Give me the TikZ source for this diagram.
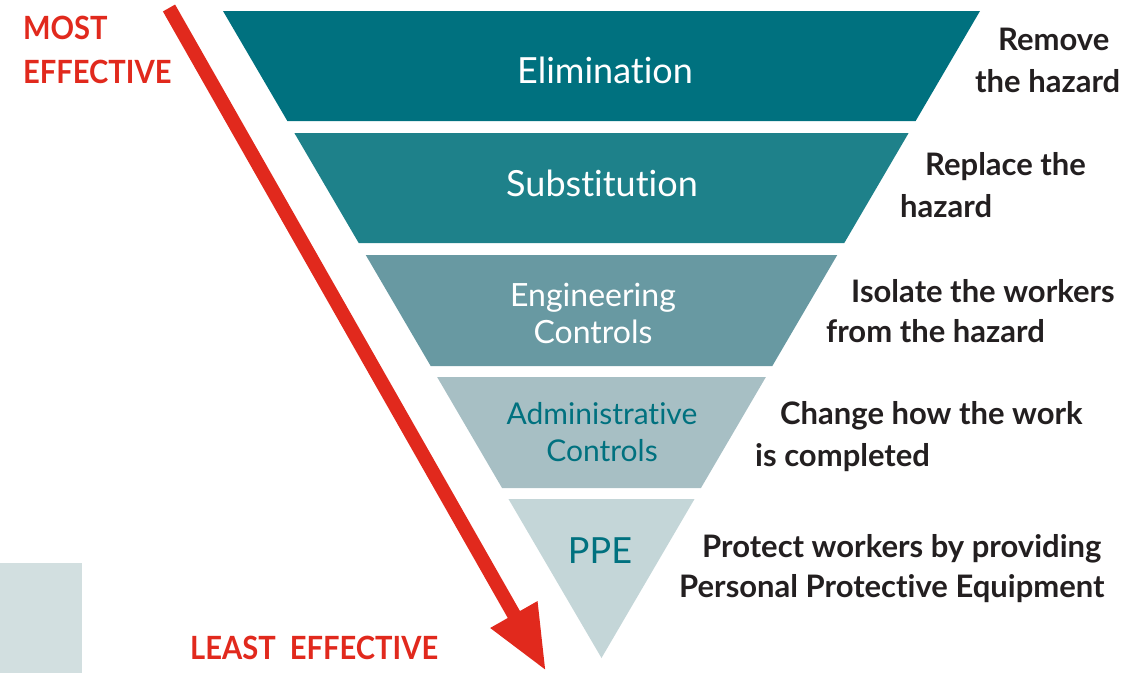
\documentclass[tikz,border=0pt]{standalone}
\usepackage{fontspec}
\setmainfont{Lato}[Ligatures=NoCommon]
\usepackage{tikz}
\usetikzlibrary{arrows.meta}
\definecolor{elimcol}{HTML}{00717F}
\definecolor{subscol}{HTML}{1E818A}
\definecolor{engicol}{HTML}{6899A2}
\definecolor{admicol}{HTML}{A7BFC4}
\definecolor{ppecol}{HTML}{C4D6D8}
\definecolor{boxcol}{HTML}{D2DFE0}
\definecolor{myred}{HTML}{E1291D}
\definecolor{mydark}{HTML}{231F20}
\tikzset{
  band/.style={font=\fontsize{36}{40}\selectfont,anchor=base,inner sep=0pt},
  small band/.style={font=\fontsize{32}{37}\selectfont,anchor=base,inner sep=0pt,align=center},
  action/.style={font=\bfseries\fontsize{31}{36}\selectfont,text=mydark,anchor=base west,inner sep=0pt},
  rank/.style={font=\bfseries\fontsize{32}{44}\selectfont,text=myred,anchor=base west,inner sep=0pt,align=left}
}
\newcommand{\cond}[1]{\scalebox{0.91}[1]{#1}}
\def\cx{601.5}
\def\ay{658}
\def\k{0.585}

\begin{document}
\begin{tikzpicture}[x=1pt,y=-1pt]
		\useasboundingbox (0,0) rectangle (1128,673);

		% the inverted pyramid
		\foreach \t/\b/\c in {11/121/elimcol, 133/243/subscol, 255/366/engicol, 377/488/admicol, 499/658/ppecol}
			\fill[\c] ({\cx-\k*(\ay-\t)},\t) -- ({\cx+\k*(\ay-\t)},\t) -- ({\cx+\k*(\ay-\b)},\b) -- ({\cx-\k*(\ay-\b)},\b) -- cycle;

		\fill[boxcol] (0,563) rectangle (82,673);

		% base of a two-line node sits on its last line
		\node[band,text=white] (elim) at (605,83) {Elimination};
		\node[band,text=white] (subs) at (602,196) {Substitution};
		\node[small band,text=white] (engi) at (593,343) {Engineering\\Controls};
		\node[small band,font=\fontsize{30}{37}\selectfont,text=elimcol] (admi) at (602,461) {Administrative\\Controls};
		\node[band,text=elimcol] (ppe) at (600,563) {PPE};

		% what each level does
		\node[action] (remove) at (998,50) {Remove};
		\node[action] (remove2) at (975,92) {the hazard};
		\node[action] (replace) at (925,175) {Replace the};
		\node[action] (replace2) at (900,217) {hazard};
		\node[action] (isolate) at (851,302) {Isolate the workers};
		\node[action] (isolate2) at (826,342) {from the hazard};
		\node[action] (change) at (780,424) {Change how the work};
		\node[action] (change2) at (755,466) {is completed};
		\node[action] (protect) at (702,557) {Protect workers by providing};
		\node[action] (protect2) at (679,597) {Personal Protective Equipment};

		% effectiveness arrow
		\coordinate (top) at (169,8);
		\coordinate (tip) at (546,671);
		\draw[myred,line width=14pt,-{Triangle[length=65pt,width=50pt]}] (top) -- (tip);
		\node[rank] (most) at (23,83) {\cond{MOST}\\\cond{EFFECTIVE}};
		\node[rank] (least) at (190,659) {\cond{LEAST\ \ EFFECTIVE}};
	\end{tikzpicture}
\end{document}
